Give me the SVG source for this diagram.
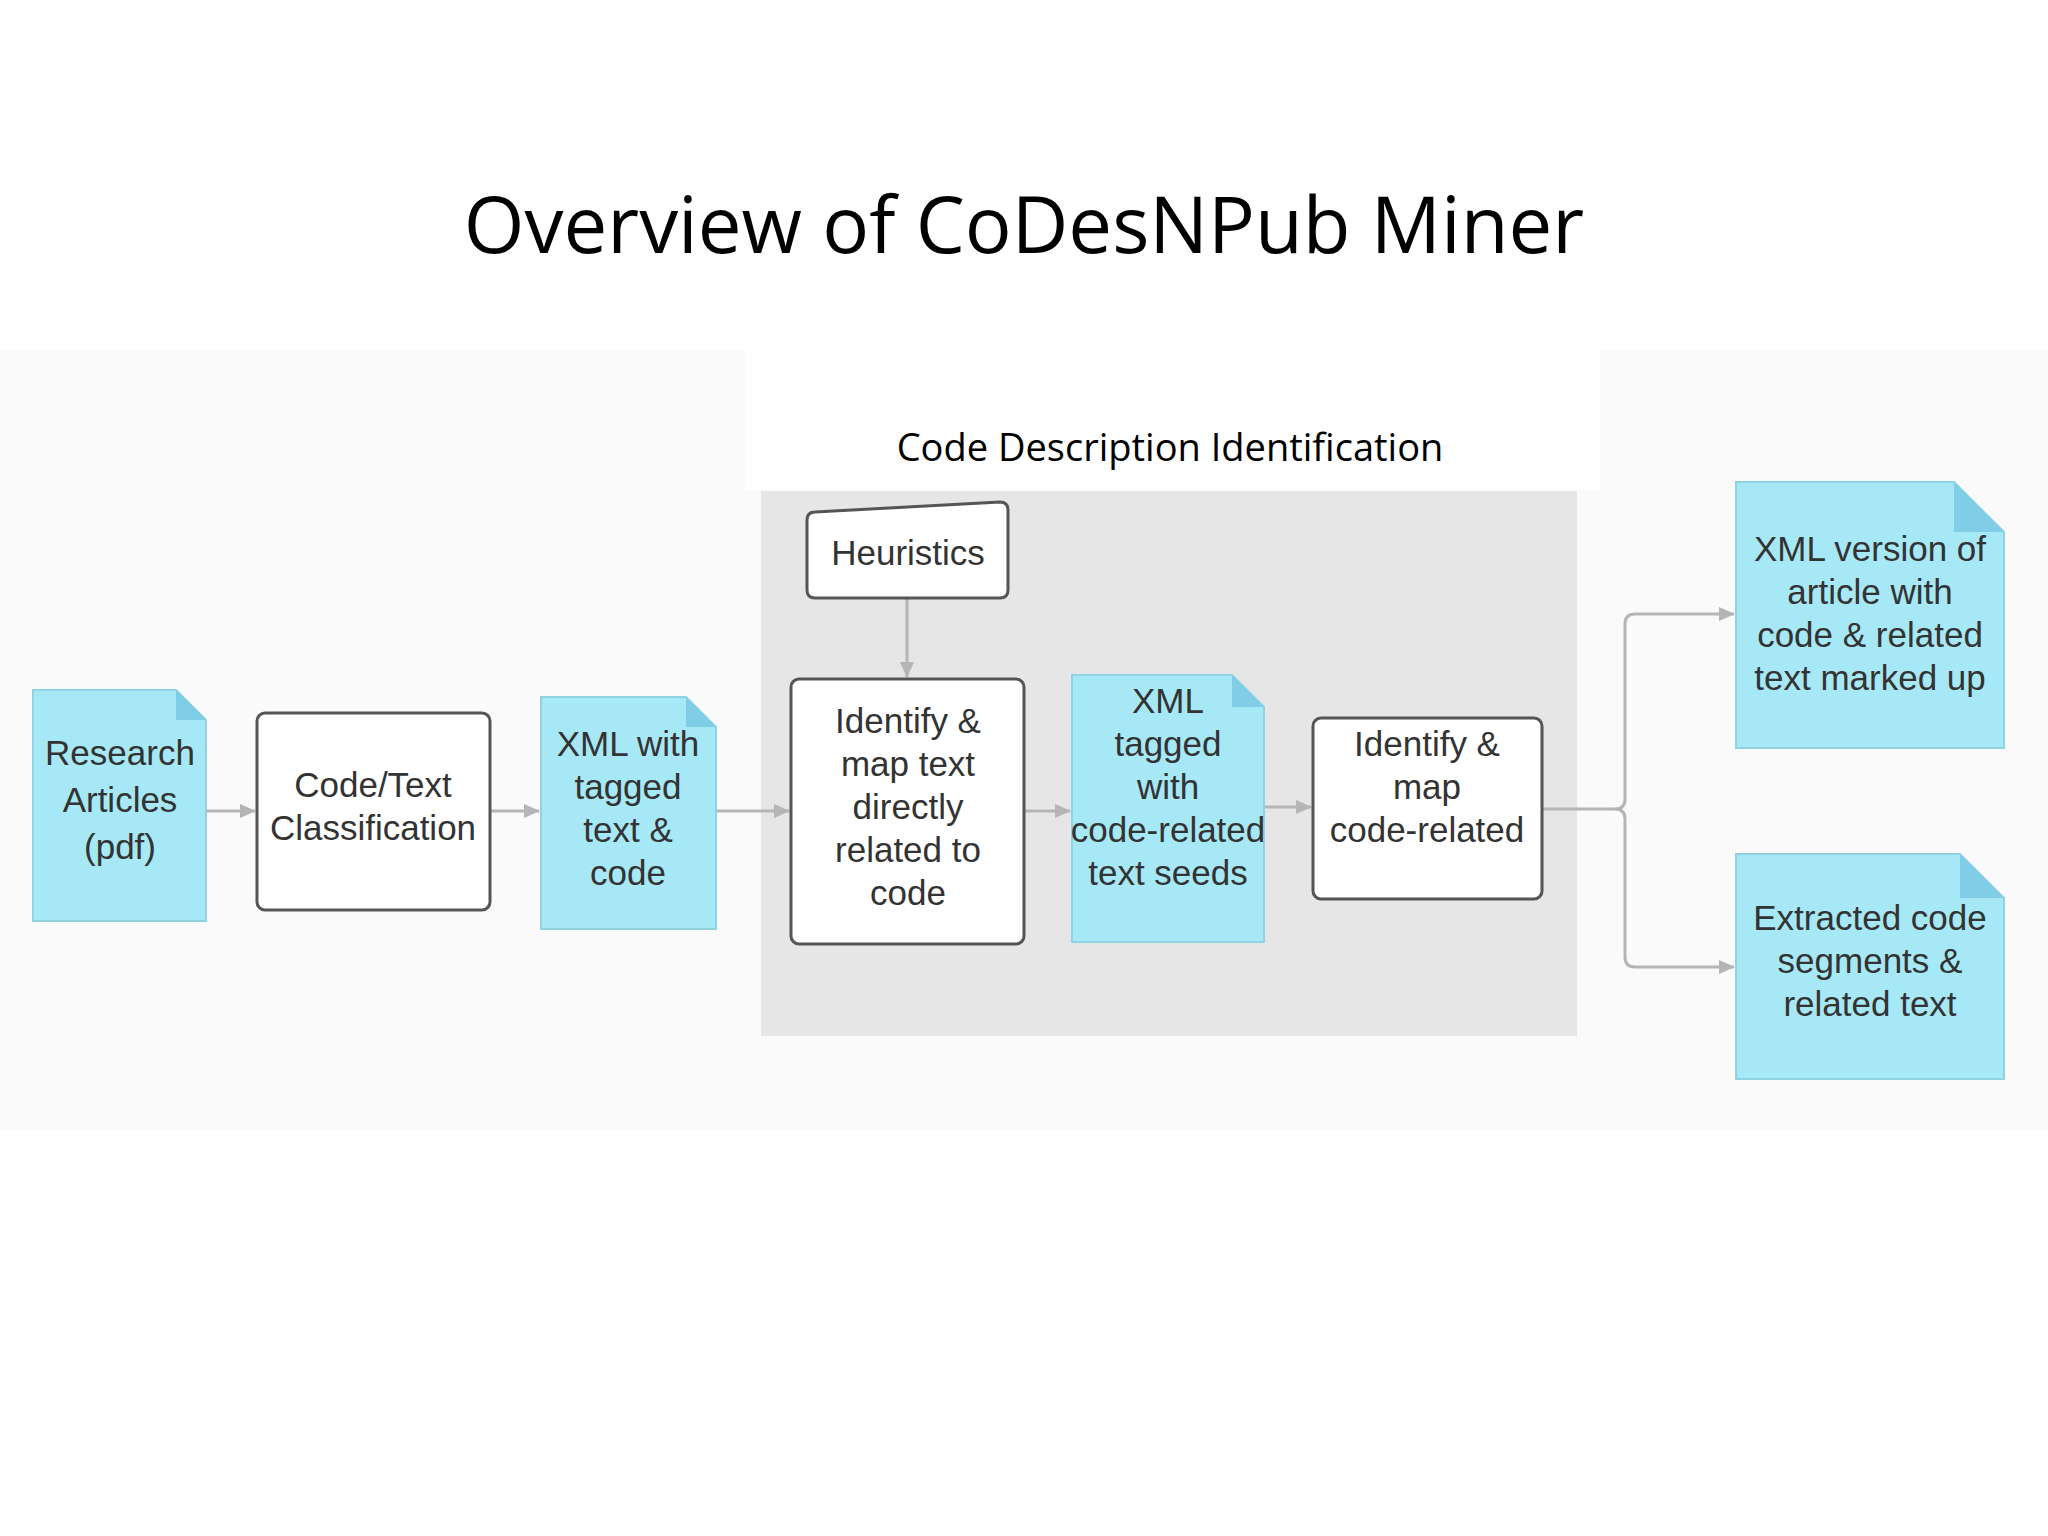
<svg xmlns="http://www.w3.org/2000/svg" width="2048" height="1536" viewBox="0 0 2048 1536">
<style>
.t{font-family:"Liberation Sans",Arial,sans-serif;font-size:35px;fill:#333;text-anchor:middle}
.doc{fill:#a6e8f5;stroke:#8fd3e3;stroke-width:2}
.fold{fill:#7fcde6}
.box{fill:#fff;stroke:#555;stroke-width:3}
.c{fill:none;stroke:#b5b5b5;stroke-width:3;marker-end:url(#a)}
</style>
<defs><marker id="a" markerWidth="16" markerHeight="14" refX="15" refY="7" orient="auto" markerUnits="userSpaceOnUse"><path d="M0,0 L16,7 L0,14 z" fill="#b5b5b5"/></marker></defs>
<rect width="2048" height="1536" fill="#fff"/>
<rect x="0" y="350" width="2048" height="780" fill="#fafafa"/>
<rect x="745" y="350" width="855" height="140" fill="#fefefe"/>
<text x="1024" y="253" font-family="'Open Sans','Noto Sans',sans-serif" font-size="78" text-anchor="middle" fill="#000">Overview of CoDesNPub Miner</text>
<text x="1170" y="461" font-family="'Open Sans','Noto Sans',sans-serif" font-size="38" text-anchor="middle" fill="#000">Code Description Identification</text>
<rect id="group" x="761" y="491" width="816" height="545" fill="#e6e6e6"/>
<g id="connectors">
<path class="c" d="M206,811 H255"/>
<path class="c" d="M490,811 H539"/>
<path class="c" d="M716,811 H789"/>
<path class="c" d="M907,598 V677"/>
<path class="c" d="M1024,811 H1070"/>
<path class="c" d="M1264,807 H1311"/>
<path class="c" d="M1542,809 H1615 Q1625,809 1625,799 V624 Q1625,614 1635,614 H1734"/>
<path class="c" d="M1615,809 Q1625,809 1625,819 V957 Q1625,967 1635,967 H1734"/>
</g>
<g id="research"><path class="doc" d="M33,690 H176 L206,720 V921 H33 Z"/><path class="fold" d="M176,690 L206,720 H176 Z"/>
<text class="t" x="120" y="765">Research</text><text class="t" x="120" y="812">Articles</text><text class="t" x="120" y="859">(pdf)</text></g>
<g id="codetext"><rect class="box" x="257" y="713" width="233" height="197" rx="8"/>
<text class="t" x="373" y="797">Code/Text</text><text class="t" x="373" y="840">Classification</text></g>
<g id="xmlwith"><path class="doc" d="M541,697 H686 L716,727 V929 H541 Z"/><path class="fold" d="M686,697 L716,727 H686 Z"/>
<text class="t" x="628" y="756">XML with</text><text class="t" x="628" y="799">tagged</text><text class="t" x="628" y="842">text &amp;</text><text class="t" x="628" y="885">code</text></g>
<g id="heuristics"><path class="box" d="M815,512 L1000,502 Q1008,502 1008,510 V590 Q1008,598 1000,598 H815 Q807,598 807,590 V520 Q807,512 815,512 Z"/>
<text class="t" x="908" y="565">Heuristics</text></g>
<g id="identify1"><rect class="box" x="791" y="679" width="233" height="265" rx="8"/>
<text class="t" x="908" y="733">Identify &amp;</text><text class="t" x="908" y="776">map text</text><text class="t" x="908" y="819">directly</text><text class="t" x="908" y="862">related to</text><text class="t" x="908" y="905">code</text></g>
<g id="xmltagged"><path class="doc" d="M1072,675 H1232 L1264,707 V942 H1072 Z"/><path class="fold" d="M1232,675 L1264,707 H1232 Z"/>
<text class="t" x="1168" y="713">XML</text><text class="t" x="1168" y="756">tagged</text><text class="t" x="1168" y="799">with</text><text class="t" x="1168" y="842">code-related</text><text class="t" x="1168" y="885">text seeds</text></g>
<g id="identify2"><rect class="box" x="1313" y="718" width="229" height="181" rx="8"/>
<text class="t" x="1427" y="756">Identify &amp;</text><text class="t" x="1427" y="799">map</text><text class="t" x="1427" y="842">code-related</text></g>
<g id="xmlversion"><path class="doc" d="M1736,482 H1954 L2004,532 V748 H1736 Z"/><path class="fold" d="M1954,482 L2004,532 H1954 Z"/>
<text class="t" x="1870" y="561">XML version of</text><text class="t" x="1870" y="604">article with</text><text class="t" x="1870" y="647">code &amp; related</text><text class="t" x="1870" y="690">text marked up</text></g>
<g id="extracted"><path class="doc" d="M1736,854 H1960 L2004,898 V1079 H1736 Z"/><path class="fold" d="M1960,854 L2004,898 H1960 Z"/>
<text class="t" x="1870" y="930">Extracted code</text><text class="t" x="1870" y="973">segments &amp;</text><text class="t" x="1870" y="1016">related text</text></g>
</svg>
